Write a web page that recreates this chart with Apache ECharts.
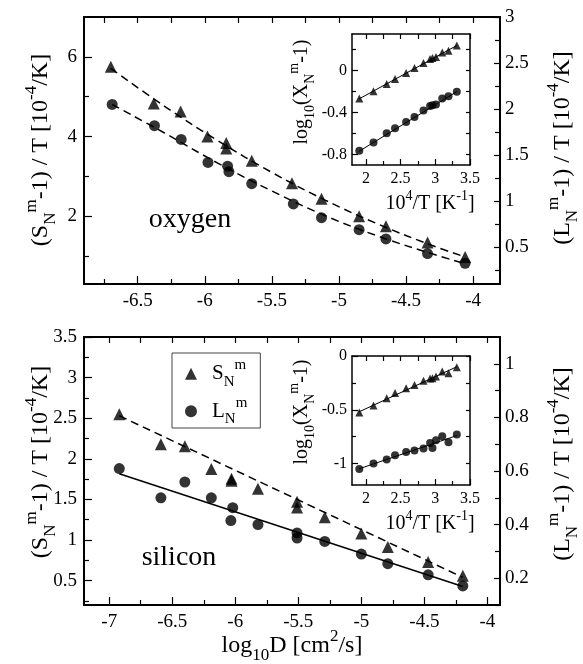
<!DOCTYPE html>
<html><head><meta charset="utf-8">
<script src="https://cdn.jsdelivr.net/npm/echarts@6/dist/echarts.min.js"></script>
<style>html,body{margin:0;padding:0;background:#fff}#c{width:583px;height:664px}</style>
</head><body><div id="c"></div>
<script>
// ---------- DATA ----------
// Oxygen main panel: S (left axis), L (right axis), x = log10 D
const oxyS_x = [-6.70,-6.38,-6.18,-5.98,-5.84,-5.84,-5.65,-5.35,-5.13,-4.85,-4.65,-4.34,-4.06];
const oxyS_y = [5.75,4.83,4.63,4.00,3.84,3.70,3.39,2.83,2.44,2.00,1.75,1.34,0.98];
const oxyL_x = [-6.69,-6.375,-6.176,-5.976,-5.83,-5.82,-5.65,-5.34,-5.13,-4.85,-4.65,-4.34,-4.06];
const oxyL_y = [2.05,1.82,1.67,1.42,1.38,1.32,1.19,0.97,0.82,0.69,0.59,0.43,0.325];
const oxyFitS_x = [-6.7,-6.3,-5.9,-5.5,-5.1,-4.7,-4.3,-4.06];
const oxyFitS_y = [5.71,4.76,3.89,3.10,2.40,1.79,1.26,0.98];
const oxyFitL_x = [-6.69,-6.3,-5.9,-5.5,-5.1,-4.7,-4.3,-4.06];
const oxyFitL_y = [2.05,1.74,1.41,1.11,0.84,0.615,0.425,0.32];
// Silicon main panel
const silS_x = [-6.92,-6.59,-6.40,-6.19,-6.03,-6.03,-5.82,-5.51,-5.51,-5.29,-5.00,-4.79,-4.47,-4.195];
const silS_y = [2.55,2.18,2.155,1.875,1.755,1.73,1.63,1.47,1.40,1.28,1.08,0.915,0.73,0.56];
const silL_x = [-6.92,-6.59,-6.40,-6.19,-6.02,-6.035,-5.82,-5.51,-5.51,-5.29,-5.00,-4.79,-4.47,-4.195];
const silL_y = [0.609,0.50,0.559,0.50,0.463,0.415,0.40,0.369,0.35,0.337,0.29,0.254,0.2125,0.171];
const silFitS_x = [-6.92,-4.195];
const silFitS_y = [2.53,0.54];
const silFitL_x = [-6.92,-4.195];
const silFitL_y = [0.59,0.169];
// Insets: x = 10^4/T
const invT = [1.905,2.11,2.30,2.42,2.58,2.70,2.83,2.925,2.96,3.01,3.10,3.19,3.31];
const oxyInsetS = [-0.265,-0.196,-0.126,-0.079,-0.022,0.026,0.073,0.111,0.12,0.13,0.173,0.19,0.24];
const oxyInsetL = [-0.765,-0.686,-0.597,-0.55,-0.49,-0.443,-0.38,-0.338,-0.329,-0.322,-0.265,-0.244,-0.20];
const silInsetS = [-0.525,-0.46,-0.392,-0.345,-0.30,-0.269,-0.231,-0.21,-0.207,-0.19,-0.145,-0.16,-0.105];
const silInsetL = [-1.05,-1.0,-0.963,-0.923,-0.892,-0.88,-0.861,-0.81,-0.855,-0.784,-0.747,-0.803,-0.731];
const insetFit_x = [1.9,3.31];
const oxyInsetFitS = [-0.27,0.24];
const oxyInsetFitL = [-0.77,-0.20];
const silInsetFitS = [-0.52,-0.10];
const silInsetFitL = [-1.05,-0.74];
// Tick labels
const oxyXTicks = [-6.5,-6,-5.5,-5,-4.5,-4];
const oxyLeftTicks = [2,4,6];
const oxyRightTicks = [0.5,1,1.5,2,2.5,3];
const silXTicks = [-7,-6.5,-6,-5.5,-5,-4.5,-4];
const silLeftTicks = [0.5,1,1.5,2,2.5,3,3.5];
const silRightTicks = [0.2,0.4,0.6,0.8,1];
const insetXTicks = [2,2.5,3,3.5];
const oxyInsetYTicks = [-0.8,-0.4,0];
const silInsetYTicks = [-1,-0.5,0];

// ---------- HELPERS ----------
const FONT = 'Liberation Serif';
function steps(a, b, s){ const o=[]; for(let v=a; v<=b+1e-9; v+=s) o.push(Math.round(v*1e6)/1e6); return o; }
function pairs(xs, ys){ return xs.map((x,i)=>[x, ys[i]]); }
function ax(grid, pos, min, max, ticks, len, labels, fs, margin, lineW, showLine){
  return {type:'value', gridIndex:grid, position:pos, min:min, max:max,
    axisLine:{show:showLine, onZero:false, lineStyle:{color:'#000', width:lineW}},
    splitLine:{show:false},
    axisTick:{show:ticks.length>0, inside:true, length:len, customValues:ticks, lineStyle:{color:'#000', width:1.2}},
    axisLabel:{show:!!labels, customValues:labels||[], fontFamily:FONT, fontSize:fs, color:'#000', margin:margin, hideOverlap:false,
      formatter: v => '{t|' + v + '}',
      rich:{t:{fontFamily:FONT, fontSize:fs, color:'#000'}}},
    axisPointer:{show:false}};
}
const xAxes=[], yAxes=[], series=[];
function panel(g, xr, xMaj, xMin, yl, ylMaj, ylMin, yr, yrMaj, yrMin, fs, majL, minL, lw, xMargin, yMargin, rightLabels){
  const xi = xAxes.length;
  xAxes.push(ax(g,'bottom',xr[0],xr[1],xMaj,majL,xMaj,fs,xMargin,lw,true));
  xAxes.push(ax(g,'bottom',xr[0],xr[1],xMin,minL,null,fs,8,lw,false));
  xAxes.push(ax(g,'top',xr[0],xr[1],xMaj.concat(xMin),minL+1,null,fs,8,lw,true));
  const yi = yAxes.length;
  yAxes.push(ax(g,'left',yl[0],yl[1],ylMaj,majL,ylMaj,fs,yMargin,lw,true));
  yAxes.push(ax(g,'left',yl[0],yl[1],ylMin,minL,null,fs,8,lw,false));
  yAxes.push(ax(g,'right',yr[0],yr[1],yrMaj,majL-2,rightLabels?yrMaj:null,fs,yMargin-2,lw,true));
  yAxes.push(ax(g,'right',yr[0],yr[1],yrMin,minL,null,fs,8,lw,false));
  return {x:xi, yl:yi, yr:yi+2};
}
function scat(a, yi, data, sym, size){
  series.push({type:'scatter', xAxisIndex:a.x, yAxisIndex:yi, data:data, symbol:sym, symbolSize:size,
    itemStyle:{color:'#000'}, silent:true, z:5});
}
function fit(a, yi, data, dashed, w, smooth){
  series.push({type:'line', xAxisIndex:a.x, yAxisIndex:yi, data:data, showSymbol:false, symbol:'none',
    smooth:smooth?0.4:false, lineStyle:{color:'#000', width:w, type:dashed?[8,5]:'solid'}, silent:true, z:3});
}

// ---------- PANELS ----------
const P0 = panel(0, [-6.9,-3.8], oxyXTicks, steps(-6.75,-4.25,0.5),
  [0.3,7], oxyLeftTicks, [1,3,5], [0.1,3], oxyRightTicks, steps(0.25,2.75,0.5), 19, 8, 5, 2, 8, 7, true);
const P1 = panel(1, [-7.2,-3.9], silXTicks, steps(-6.75,-4.25,0.5),
  [0.2,3.5], silLeftTicks, steps(0.25,3.25,0.5), [0.1,1.1], silRightTicks, steps(0.1,0.9,0.2), 19, 8, 5, 2, 8, 7, true);
const P2 = panel(2, [1.8,3.5], insetXTicks, [2.25,2.75,3.25],
  [-0.9,0.35], oxyInsetYTicks, [-0.6,-0.2,0.2], [-0.9,0.35], [], steps(-0.8,0.2,0.2), 16, 6, 4, 1.5, 6, 5, false);
const P3 = panel(3, [1.8,3.5], insetXTicks, [2.25,2.75,3.25],
  [-1.2,0], silInsetYTicks, [-0.75,-0.25], [-1.2,0], [], steps(-1,0,0.25), 16, 6, 4, 1.5, 6, 5, false);

fit(P0, P0.yl, pairs(oxyFitS_x, oxyFitS_y), true, 1.5, true);
fit(P0, P0.yr, pairs(oxyFitL_x, oxyFitL_y), true, 1.5, true);
scat(P0, P0.yl, pairs(oxyS_x, oxyS_y), 'triangle', 12);
scat(P0, P0.yr, pairs(oxyL_x, oxyL_y), 'circle', 11);

fit(P1, P1.yl, pairs(silFitS_x, silFitS_y), true, 1.5, false);
fit(P1, P1.yr, pairs(silFitL_x, silFitL_y), false, 1.5, false);
series.push({type:'scatter', name:'Ssil', xAxisIndex:P1.x, yAxisIndex:P1.yl, data:pairs(silS_x, silS_y), symbol:'triangle', symbolSize:12, itemStyle:{color:'#000'}, silent:true, z:5});
series.push({type:'scatter', name:'Lsil', xAxisIndex:P1.x, yAxisIndex:P1.yr, data:pairs(silL_x, silL_y), symbol:'circle', symbolSize:11, itemStyle:{color:'#000'}, silent:true, z:5});

fit(P2, P2.yl, pairs(insetFit_x, oxyInsetFitS), false, 1, false);
fit(P2, P2.yl, pairs(insetFit_x, oxyInsetFitL), false, 1, false);
scat(P2, P2.yl, pairs(invT, oxyInsetS), 'triangle', 8);
scat(P2, P2.yl, pairs(invT, oxyInsetL), 'circle', 8);

fit(P3, P3.yl, pairs(insetFit_x, silInsetFitS), false, 1, false);
fit(P3, P3.yl, pairs(insetFit_x, silInsetFitL), false, 1, false);
scat(P3, P3.yl, pairs(invT, silInsetS), 'triangle', 8);
scat(P3, P3.yl, pairs(invT, silInsetL), 'circle', 8);

// ---------- TEXT ----------
const rich = (fs) => ({
  n:{fontFamily:FONT, fontSize:fs, color:'#000', lineHeight:fs*1.5},
  sb:{fontFamily:FONT, fontSize:Math.round(fs*0.7), color:'#000', verticalAlign:'bottom', lineHeight:fs*1.5},
  sp:{fontFamily:FONT, fontSize:Math.round(fs*0.7), color:'#000', verticalAlign:'top', lineHeight:fs*1.5}
});
function txt(x, y, s, fs, rot){
  return {type:'text', x:x, y:y, rotation:rot||0, z:10, silent:true,
    style:{text:s, rich:rich(fs), fontFamily:FONT, fontSize:fs, fill:'#000', align:'center', verticalAlign:'middle', textAlign:'center', textVerticalAlign:'middle'}};
}
const R = Math.PI/2;
const titleS = '{n|(S}{sb|N}{sp|m}{n|-1) / T [10}{sp|-4}{n|/K]}';
const titleL = '{n|(L}{sb|N}{sp|m}{n|-1) / T [10}{sp|-4}{n|/K]}';
const insetY = '{n|log}{sb|10}{n|(X}{sb|N}{sp|m}{n|-1)}';
const insetX = '{n|10}{sp|4}{n|/T [K}{sp|-1}{n|]}';

const graphics = [
  txt(41, 150, titleS, 24, R),
  txt(41, 462, titleS, 24, R),
  txt(563, 148, titleL, 24, R),
  txt(563, 464, titleL, 24, R),
  txt(292, 646, '{n|log}{sb|10}{n|D [cm}{sp|2}{n|/s]}', 24, 0),
  txt(190, 220, '{n|oxygen}', 28, 0),
  txt(179, 558, '{n|silicon}', 28, 0),
  txt(302, 92, insetY, 20, R),
  txt(302, 412, insetY, 20, R),
  txt(430, 204, insetX, 20, 0),
  txt(430, 524, insetX, 20, 0)
];

const chart = echarts.init(document.getElementById('c'), null, {renderer:'canvas'});
chart.setOption({
  animation:false,
  backgroundColor:'#fff',
  textStyle:{fontFamily:FONT, color:'#000'},
  grid:[
    {left:84, top:17, width:416, height:267},
    {left:84, top:337, width:416, height:268},
    {left:352, top:34, width:118, height:131},
    {left:352, top:356, width:118, height:129}
  ],
  xAxis:xAxes, yAxis:yAxes, series:series,
  legend:{
    data:[{name:'Ssil', icon:'triangle'},{name:'Lsil', icon:'circle'}],
    orient:'vertical', left:172, top:353, itemWidth:12, itemHeight:12, itemGap:6,
    padding:[5,13,1,13], borderColor:'#444', borderWidth:1, selectedMode:false,
    formatter: n => n==='Ssil' ? '{n|S}{sb|N}{sp|m}' : '{n|L}{sb|N}{sp|m}',
    textStyle:{rich:rich(21), padding:[0,0,0,10]},
    itemStyle:{color:'#000'}
  },
  graphic:graphics
});
</script></body></html>
